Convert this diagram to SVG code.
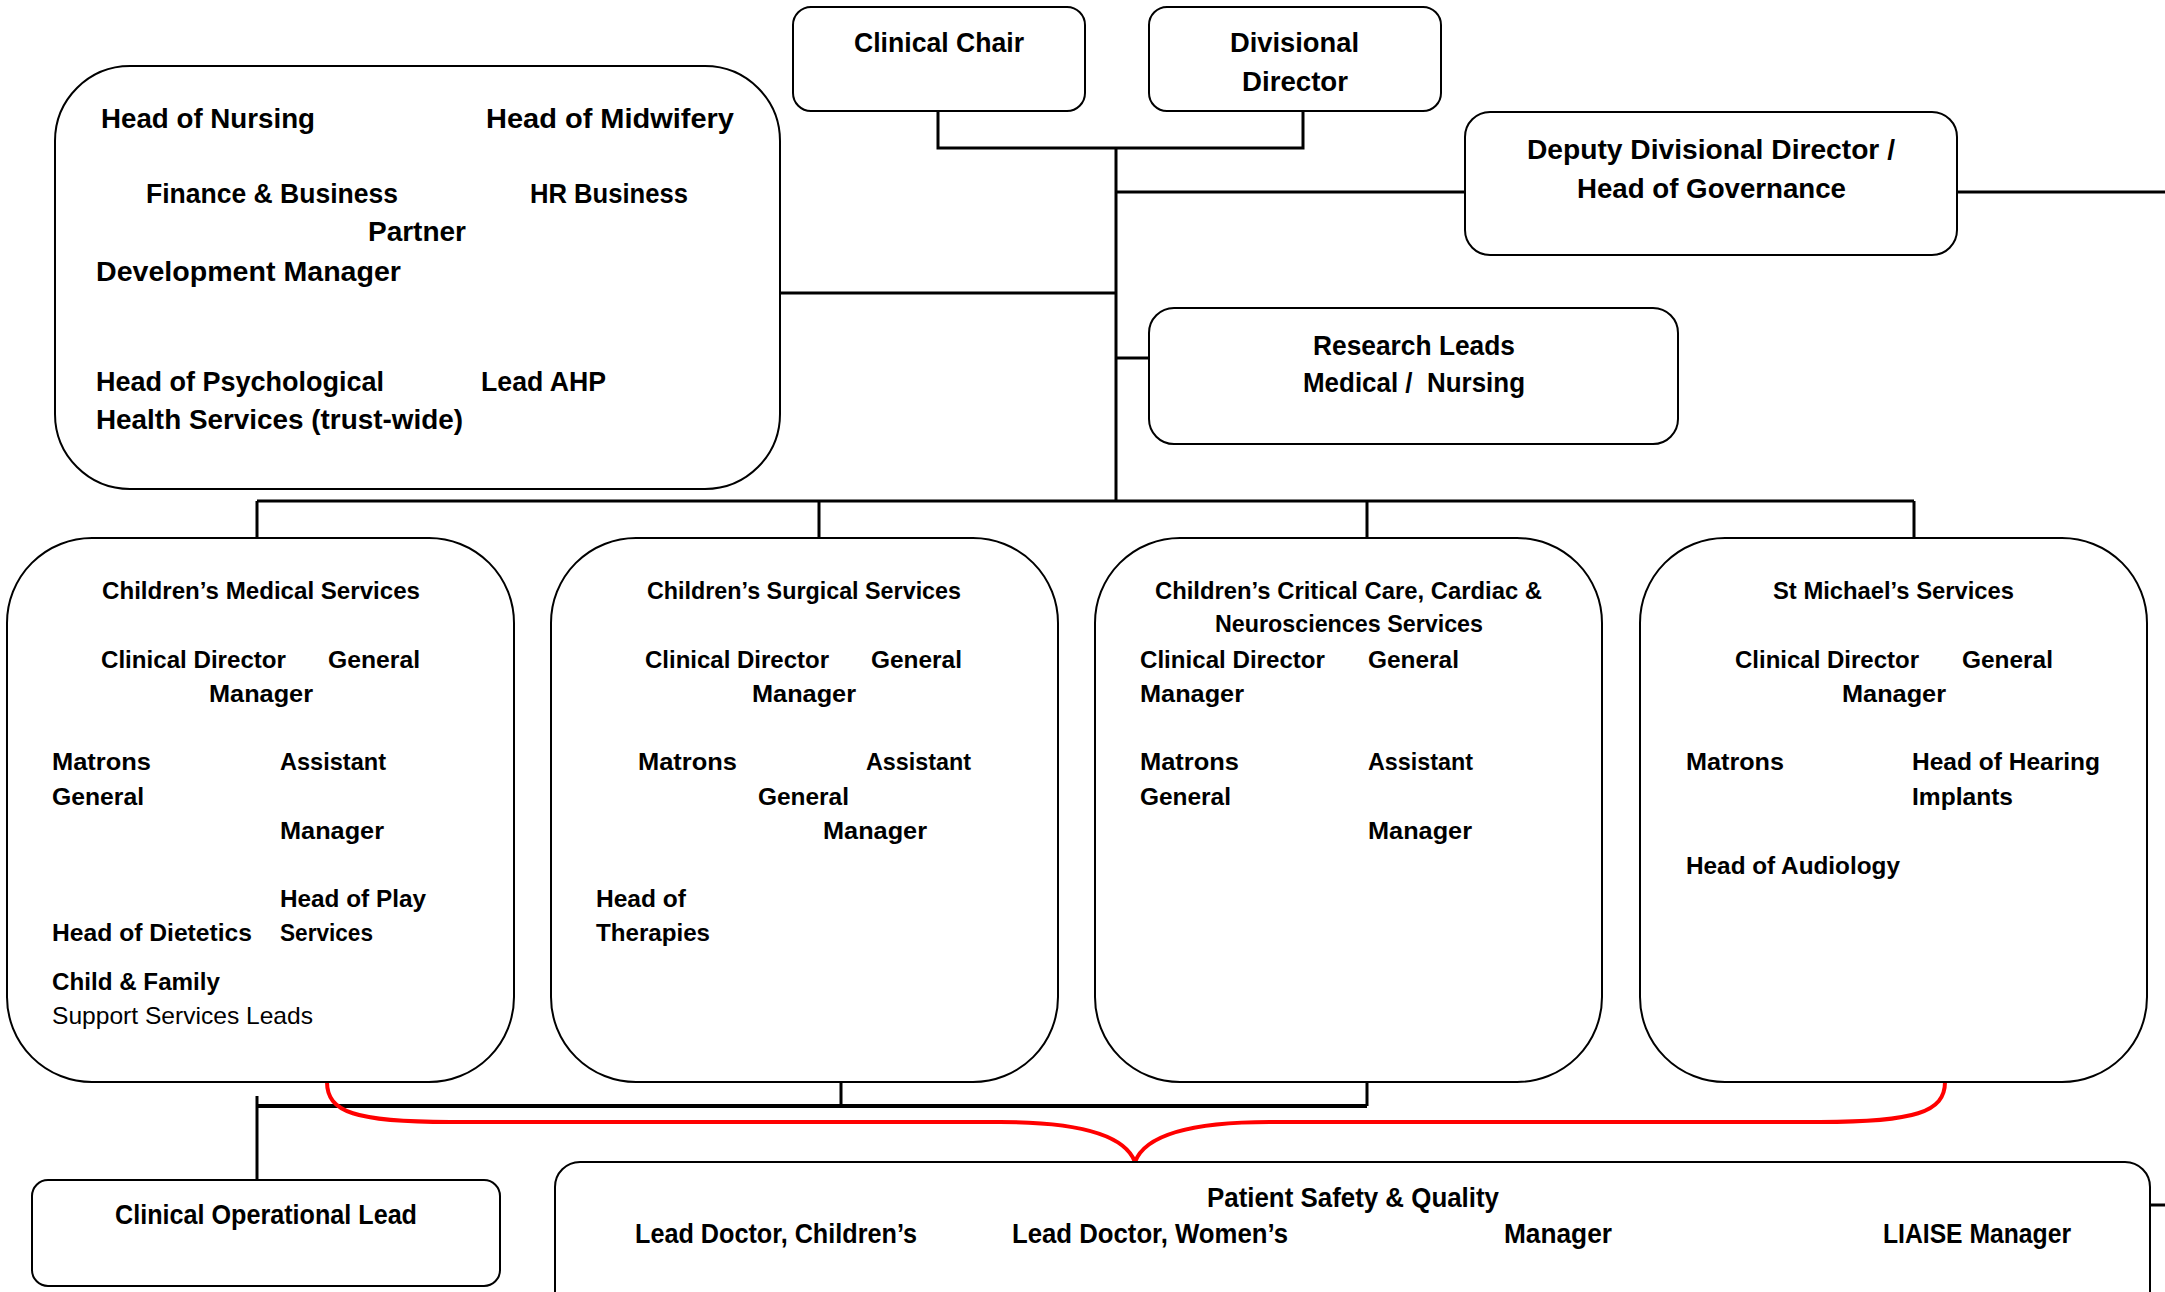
<svg xmlns="http://www.w3.org/2000/svg" width="2165" height="1292" viewBox="0 0 2165 1292">
<style>
.box{fill:#fff;stroke:#000;stroke-width:2}
.ln{fill:none;stroke:#000;stroke-width:3}
.bus{fill:none;stroke:#000;stroke-width:4}
.red{fill:none;stroke:#f00;stroke-width:4}
text{font-family:"Liberation Sans",Arial,sans-serif;font-weight:bold;fill:#000}
.f28{font-size:28px}
.f24{font-size:24px}
.f27{font-size:27px}
.reg{font-weight:normal}
</style>
<rect width="2165" height="1292" fill="#fff"/>
<g id="connectors">
<path class="ln" d="M938 112V148H1303V112"/>
<path class="ln" d="M1116 148V502"/>
<path class="ln" d="M1116 192H1465"/>
<path class="ln" d="M1957 192H2165"/>
<path class="ln" d="M780 293H1116"/>
<path class="ln" d="M1116 358H1148"/>
<path class="ln" d="M257 501H1914"/>
<path class="ln" d="M257 501V538M819 501V538M1367 501V538M1914 501V538"/>
<path class="bus" d="M257 1106H1367"/>
<path class="ln" d="M841 1082V1106M1367 1082V1106"/>
<path class="ln" d="M257 1096V1180"/>
<path class="ln" d="M2150 1205H2165"/>
<path class="red" d="M327 1082C327 1112 355 1122 450 1122L1000 1122C1080 1122 1125 1135 1135 1162C1145 1135 1190 1122 1270 1122L1820 1122C1915 1122 1945 1112 1945 1082"/>
</g>
<g id="clinical-chair">
<rect class="box" x="793" y="7" width="292" height="104" rx="18"/>
<text class="f28" x="854" y="52" textLength="170" lengthAdjust="spacingAndGlyphs">Clinical Chair</text>
</g>
<g id="divisional-director">
<rect class="box" x="1149" y="7" width="292" height="104" rx="18"/>
<text class="f28" x="1230" y="52" textLength="129" lengthAdjust="spacingAndGlyphs">Divisional</text>
<text class="f28" x="1242" y="91" textLength="106" lengthAdjust="spacingAndGlyphs">Director</text>
</g>
<g id="deputy-director">
<rect class="box" x="1465" y="112" width="492" height="143" rx="25"/>
<text class="f28" x="1527" y="159" textLength="368" lengthAdjust="spacingAndGlyphs">Deputy Divisional Director /</text>
<text class="f28" x="1577" y="198" textLength="269" lengthAdjust="spacingAndGlyphs">Head of Governance</text>
</g>
<g id="heads-group">
<rect class="box" x="55" y="66" width="725" height="423" rx="75"/>
<text class="f28" x="101" y="128" textLength="214" lengthAdjust="spacingAndGlyphs">Head of Nursing</text>
<text class="f28" x="486" y="128" textLength="248" lengthAdjust="spacingAndGlyphs">Head of Midwifery</text>
<text class="f28" x="146" y="203" textLength="252" lengthAdjust="spacingAndGlyphs">Finance &amp; Business</text>
<text class="f28" x="530" y="203" textLength="158" lengthAdjust="spacingAndGlyphs">HR Business</text>
<text class="f28" x="368" y="241" textLength="98" lengthAdjust="spacingAndGlyphs">Partner</text>
<text class="f28" x="96" y="281" textLength="305" lengthAdjust="spacingAndGlyphs">Development Manager</text>
<text class="f28" x="96" y="391" textLength="288" lengthAdjust="spacingAndGlyphs">Head of Psychological</text>
<text class="f28" x="96" y="429" textLength="367" lengthAdjust="spacingAndGlyphs">Health Services (trust-wide)</text>
<text class="f28" x="481" y="391" textLength="125" lengthAdjust="spacingAndGlyphs">Lead AHP</text>
</g>
<g id="research-leads">
<rect class="box" x="1149" y="308" width="529" height="136" rx="25"/>
<text class="f28" x="1313" y="355" textLength="202" lengthAdjust="spacingAndGlyphs">Research Leads</text>
<text class="f28" x="1303" y="392" textLength="222" lengthAdjust="spacingAndGlyphs" xml:space="preserve">Medical /  Nursing</text>
</g>
<g id="medical-services">
<rect class="box" x="7" y="538" width="507" height="544" rx="85"/>
<text class="f24" x="102" y="599" textLength="318" lengthAdjust="spacingAndGlyphs">Children’s Medical Services</text>
<text class="f24" x="101" y="668" textLength="185" lengthAdjust="spacingAndGlyphs">Clinical Director</text>
<text class="f24" x="328" y="668" textLength="92" lengthAdjust="spacingAndGlyphs">General</text>
<text class="f24" x="209" y="702" textLength="104" lengthAdjust="spacingAndGlyphs">Manager</text>
<text class="f24" x="52" y="770" textLength="99" lengthAdjust="spacingAndGlyphs">Matrons</text>
<text class="f24" x="280" y="770" textLength="106" lengthAdjust="spacingAndGlyphs">Assistant</text>
<text class="f24" x="52" y="805" textLength="92" lengthAdjust="spacingAndGlyphs">General</text>
<text class="f24" x="280" y="839" textLength="104" lengthAdjust="spacingAndGlyphs">Manager</text>
<text class="f24" x="280" y="907" textLength="146" lengthAdjust="spacingAndGlyphs">Head of Play</text>
<text class="f24" x="52" y="941" textLength="200" lengthAdjust="spacingAndGlyphs">Head of Dietetics</text>
<text class="f24" x="280" y="941" textLength="93" lengthAdjust="spacingAndGlyphs">Services</text>
<text class="f24" x="52" y="990" textLength="168" lengthAdjust="spacingAndGlyphs">Child &amp; Family</text>
<text class="f24 reg" x="52" y="1024" textLength="261" lengthAdjust="spacingAndGlyphs">Support Services Leads</text>
</g>
<g id="surgical-services">
<rect class="box" x="551" y="538" width="507" height="544" rx="85"/>
<text class="f24" x="647" y="599" textLength="314" lengthAdjust="spacingAndGlyphs">Children’s Surgical Services</text>
<text class="f24" x="645" y="668" textLength="184" lengthAdjust="spacingAndGlyphs">Clinical Director</text>
<text class="f24" x="871" y="668" textLength="91" lengthAdjust="spacingAndGlyphs">General</text>
<text class="f24" x="752" y="702" textLength="104" lengthAdjust="spacingAndGlyphs">Manager</text>
<text class="f24" x="638" y="770" textLength="99" lengthAdjust="spacingAndGlyphs">Matrons</text>
<text class="f24" x="866" y="770" textLength="105" lengthAdjust="spacingAndGlyphs">Assistant</text>
<text class="f24" x="758" y="805" textLength="91" lengthAdjust="spacingAndGlyphs">General</text>
<text class="f24" x="823" y="839" textLength="104" lengthAdjust="spacingAndGlyphs">Manager</text>
<text class="f24" x="596" y="907" textLength="90" lengthAdjust="spacingAndGlyphs">Head of</text>
<text class="f24" x="596" y="941" textLength="114" lengthAdjust="spacingAndGlyphs">Therapies</text>
</g>
<g id="critical-care-services">
<rect class="box" x="1095" y="538" width="507" height="544" rx="85"/>
<text class="f24" x="1155" y="599" textLength="387" lengthAdjust="spacingAndGlyphs">Children’s Critical Care, Cardiac &amp;</text>
<text class="f24" x="1215" y="632" textLength="268" lengthAdjust="spacingAndGlyphs">Neurosciences Services</text>
<text class="f24" x="1140" y="668" textLength="185" lengthAdjust="spacingAndGlyphs">Clinical Director</text>
<text class="f24" x="1368" y="668" textLength="91" lengthAdjust="spacingAndGlyphs">General</text>
<text class="f24" x="1140" y="702" textLength="104" lengthAdjust="spacingAndGlyphs">Manager</text>
<text class="f24" x="1140" y="770" textLength="99" lengthAdjust="spacingAndGlyphs">Matrons</text>
<text class="f24" x="1368" y="770" textLength="105" lengthAdjust="spacingAndGlyphs">Assistant</text>
<text class="f24" x="1140" y="805" textLength="91" lengthAdjust="spacingAndGlyphs">General</text>
<text class="f24" x="1368" y="839" textLength="104" lengthAdjust="spacingAndGlyphs">Manager</text>
</g>
<g id="st-michaels-services">
<rect class="box" x="1640" y="538" width="507" height="544" rx="85"/>
<text class="f24" x="1773" y="599" textLength="241" lengthAdjust="spacingAndGlyphs">St Michael’s Services</text>
<text class="f24" x="1735" y="668" textLength="184" lengthAdjust="spacingAndGlyphs">Clinical Director</text>
<text class="f24" x="1962" y="668" textLength="91" lengthAdjust="spacingAndGlyphs">General</text>
<text class="f24" x="1842" y="702" textLength="104" lengthAdjust="spacingAndGlyphs">Manager</text>
<text class="f24" x="1686" y="770" textLength="98" lengthAdjust="spacingAndGlyphs">Matrons</text>
<text class="f24" x="1912" y="770" textLength="188" lengthAdjust="spacingAndGlyphs">Head of Hearing</text>
<text class="f24" x="1912" y="805" textLength="101" lengthAdjust="spacingAndGlyphs">Implants</text>
<text class="f24" x="1686" y="874" textLength="214" lengthAdjust="spacingAndGlyphs">Head of Audiology</text>
</g>
<g id="clinical-operational-lead">
<rect class="box" x="32" y="1180" width="468" height="106" rx="16"/>
<text class="f27" x="115" y="1224" textLength="302" lengthAdjust="spacingAndGlyphs">Clinical Operational Lead</text>
</g>
<g id="patient-safety">
<rect class="box" x="555" y="1162" width="1595" height="170" rx="25"/>
<text class="f27" x="1207" y="1207" textLength="292" lengthAdjust="spacingAndGlyphs">Patient Safety &amp; Quality</text>
<text class="f27" x="635" y="1243" textLength="282" lengthAdjust="spacingAndGlyphs">Lead Doctor, Children’s</text>
<text class="f27" x="1012" y="1243" textLength="276" lengthAdjust="spacingAndGlyphs">Lead Doctor, Women’s</text>
<text class="f27" x="1504" y="1243" textLength="108" lengthAdjust="spacingAndGlyphs">Manager</text>
<text class="f27" x="1883" y="1243" textLength="188" lengthAdjust="spacingAndGlyphs">LIAISE Manager</text>
</g>
</svg>
